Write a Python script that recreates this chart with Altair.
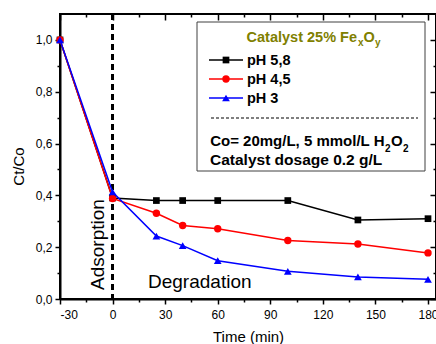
import altair as alt
import pandas as pd

# ---------------- data ----------------
times = [-30, 0, 25, 40, 60, 100, 140, 180]
ph58 = [1.0, 0.39, 0.38, 0.38, 0.38, 0.38, 0.305, 0.31]
ph45 = [1.0, 0.388, 0.331, 0.284, 0.271, 0.226, 0.212, 0.178]
ph3 = [1.0, 0.413, 0.243, 0.206, 0.148, 0.107, 0.085, 0.076]
series_names = ["pH 5,8", "pH 4,5", "pH 3"]
series_values = [ph58, ph45, ph3]
series_colors = ["#000000", "#ff0000", "#0000ff"]
series_shapes = ["square", "circle", "triangle-up"]
series_sizes = [45, 55, 60]
x_ticks = [-30, -15, 0, 15, 30, 45, 60, 75, 90, 105, 120, 135, 150, 165, 180]
y_ticks = [0.0, 0.1, 0.2, 0.3, 0.4, 0.5, 0.6, 0.7, 0.8, 0.9, 1.0]

FONT = "Liberation Sans"
xs = alt.Scale(domain=[-30, 184.56], nice=False, zero=False)
ys = alt.Scale(domain=[0, 1.1], nice=False, zero=False)

common_axis = dict(grid=False, domainColor="black", domainWidth=2, tickColor="black",
                   tickWidth=1.5, labelFont=FONT, labelFontSize=12, labelColor="black",
                   titleFont=FONT, titleFontSize=15, titleFontWeight="normal", titleColor="black")

x_axis = alt.Axis(orient="bottom", values=x_ticks, title="Time (min)",
                  tickSize={"condition": {"test": "datum.value % 30 === 0", "value": 5}, "value": 3},
                  labelExpr="datum.value % 30 === 0 ? '' + datum.value : ''",
                  labelPadding=5, titleX=188, titleY=42, titleAlign="center",
                  titleBaseline="alphabetic", **common_axis)
y_axis = alt.Axis(orient="left", values=y_ticks, title="Ct/Co",
                  tickSize={"condition": {"test": "round(datum.value*10) % 2 === 0", "value": 5}, "value": 3},
                  labelExpr="round(datum.value*10) % 2 === 0 ? replace(format(datum.value, '.1f'), '.', ',') : ''",
                  labelPadding=3, titleX=-37, titleY=152, titleAngle=270, titleAlign="center",
                  titleBaseline="alphabetic", **common_axis)
x_axis_top = alt.Axis(orient="top", values=x_ticks, title=None, labels=False, domain=False, grid=False,
                      tickColor="black", tickWidth=1.5,
                      tickSize={"expr": "datum.value % 30 === 0 ? -6 : -3"})
y_axis_right = alt.Axis(orient="right", values=y_ticks, title=None, labels=False, domain=False, grid=False,
                        tickColor="black", tickWidth=1.5,
                        tickSize={"expr": "round(datum.value*10) % 2 === 0 ? -6 : -3"})

layers = []

# axis-bearing invisible layers
base_df = pd.DataFrame({"time": times, "value": ph58})
layers.append(alt.Chart(base_df).mark_point(opacity=0).encode(
    x=alt.X("time:Q", scale=xs, axis=x_axis),
    y=alt.Y("value:Q", scale=ys, axis=y_axis)))
layers.append(alt.Chart(base_df).mark_point(opacity=0).encode(
    x=alt.X("time:Q", scale=xs, axis=x_axis_top),
    y=alt.Y("value:Q", scale=ys, axis=y_axis_right)))

# dashed vertical line at t = 0
layers.append(alt.Chart(base_df).mark_rule(color="black", strokeWidth=2, strokeDash=[6, 4]).encode(
    x=alt.XDatum(0, type="quantitative", scale=xs, axis=None)))

# series
for name, vals, col, shp, sz in zip(series_names, series_values, series_colors, series_shapes, series_sizes):
    d = pd.DataFrame({"time": times, "value": vals})
    enc = dict(x=alt.X("time:Q", scale=xs, axis=None), y=alt.Y("value:Q", scale=ys, axis=None))
    layers.append(alt.Chart(d).mark_line(color=col, strokeWidth=1.5).encode(**enc))
    layers.append(alt.Chart(d).mark_point(color=col, shape=shp, filled=True, opacity=1, size=sz).encode(**enc))

one = pd.DataFrame({"k": [0]})


def txt(text, x, y, size=14.5, weight="bold", color="black", align="left", angle=0):
    return alt.Chart(one).mark_text(text=text, font=FONT, fontSize=size, fontWeight=weight,
                                    color=color, align=align, baseline="alphabetic", angle=angle).encode(
        x=alt.value(x), y=alt.value(y))


# in-plot annotations
layers.append(txt("Adsorption", 44, 276, size=19, weight="normal", angle=270))
layers.append(txt("Degradation", 88, 274, size=19, weight="normal"))

# legend box
layers.append(alt.Chart(one).mark_rect(fill="white", stroke="#404040", strokeWidth=1).encode(
    x=alt.value(137), x2=alt.value(365), y=alt.value(8), y2=alt.value(157)))

OLIVE = "#808000"
layers.append(txt("Catalyst 25% Fe", 297, 27.5, color=OLIVE, align="right"))
layers.append(txt("x", 298, 32, size=10, color=OLIVE))
layers.append(txt("O", 303.5, 27.5, color=OLIVE))
layers.append(txt("y", 315, 31.5, size=10, color=OLIVE))

row_y = [46, 65, 84]
for name, col, shp, sz, ry in zip(series_names, series_colors, series_shapes, series_sizes, row_y):
    layers.append(alt.Chart(one).mark_rule(color=col, strokeWidth=1.5).encode(
        x=alt.value(149), x2=alt.value(183), y=alt.value(ry)))
    layers.append(alt.Chart(one).mark_point(color=col, shape=shp, filled=True, opacity=1, size=sz).encode(
        x=alt.value(166), y=alt.value(ry)))
    layers.append(txt(name, 187, ry + 5))

layers.append(alt.Chart(one).mark_rule(color="black", strokeWidth=1.2, strokeDash=[3, 2]).encode(
    x=alt.value(151), x2=alt.value(358), y=alt.value(104)))

layers.append(txt("Co= 20mg/L, 5 mmol/L H", 324.5, 132, size=15, align="right"))
layers.append(txt("2", 325, 137.5, size=10))
layers.append(txt("O", 331, 132, size=15))
layers.append(txt("2", 343, 137.5, size=10))
layers.append(txt("Catalyst dosage 0.2 g/L", 150, 151, size=15.5))

chart = alt.layer(*layers).resolve_axis(x="independent", y="independent").properties(
    width=376, height=285,
    autosize=alt.AutoSizeParams(type="none"),
    padding={"left": 60, "top": 14, "right": 0, "bottom": 45},
    background="white",
).configure_view(stroke="black", strokeWidth=2)

chart.save("out.html", embed_options={"renderer": "svg", "actions": False})
